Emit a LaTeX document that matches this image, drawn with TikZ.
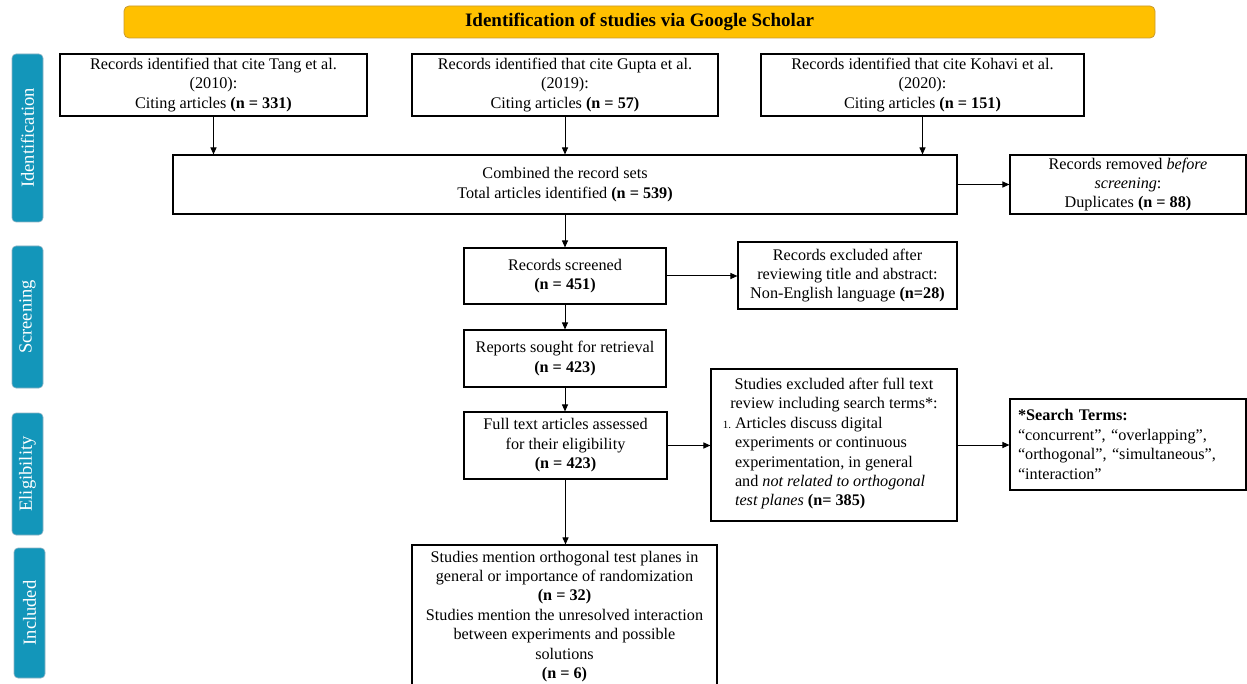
\documentclass[tikz,border=0pt]{standalone}
\usepackage{fontspec}
\setmainfont{Liberation Serif}
\usetikzlibrary{arrows.meta}
\definecolor{scholar}{HTML}{FFC000}
\definecolor{scholarline}{HTML}{C99A2E}
\definecolor{phaseblue}{HTML}{1396BA}
\definecolor{phaseline}{HTML}{8FB3C4}
\tikzset{
  box/.style={draw, line width=1.1pt, align=center, inner xsep=4pt, inner ysep=1pt},
  phasebox/.style={fill=phaseblue, draw=phaseline, line width=0.6pt, rounded corners=4pt,
    text=white, rotate=90, minimum height=31pt, font=\fontsize{18.5}{20}\selectfont},
  arr/.style={-{Triangle[length=7pt,width=6pt]}, line width=1pt}
}

\begin{document}
\begin{tikzpicture}[x=1pt, y=-1pt, font=\fontsize{16.2}{19.4}\selectfont]
        \path[use as bounding box, clip] (0,0) rectangle (1247,684);
        % title
        \node[fill=scholar, draw=scholarline, line width=0.8pt, rounded corners=5pt,
              minimum width=1031pt, minimum height=32pt,
              font=\fontsize{19}{22}\selectfont\bfseries] (title) at (639.5,22)
              {Identification of studies via Google Scholar};
        % phases
        \node[phasebox, minimum width=168pt] (ph-id)   at (27.5,138) {Identification};
        \node[phasebox, minimum width=142pt] (ph-scr)  at (27.5,317) {Screening};
        \node[phasebox, minimum width=122pt] (ph-elig) at (27.5,474) {Eligibility};
        \node[phasebox, minimum width=130pt] (ph-incl) at (29.5,613) {Included};
        % nodes
        \node[box, minimum width=307pt, minimum height=62pt] (tang) at (213.5,85)
              {Records identified that cite Tang et al.\\(2010):\\Citing articles \textbf{(n = 331)}};
        \node[box, minimum width=306pt, minimum height=62pt] (gupta) at (565,85)
              {Records identified that cite Gupta et al.\\(2019):\\Citing articles \textbf{(n = 57)}};
        \node[box, minimum width=323pt, minimum height=62pt] (kohavi) at (922.5,85)
              {Records identified that cite Kohavi et al.\\(2020):\\Citing articles \textbf{(n = 151)}};
        \node[box, minimum width=784pt, minimum height=59pt] (comb) at (565,184.5)
              {Combined the record sets\\Total articles identified \textbf{(n = 539)}};
        \node[box, minimum width=236pt, minimum height=59pt] (removed) at (1128,184.5)
              {Records removed \textit{before}\\\textit{screening}:\\Duplicates \textbf{(n = 88)}};
        \node[box, minimum width=202pt, minimum height=56pt] (scr) at (565,276)
              {Records screened\\\textbf{(n = 451)}};
        \node[box, minimum width=219pt, minimum height=67pt] (scr-excl) at (847.5,275.5)
              {Records excluded after\\reviewing title and abstract:\\Non-English language \textbf{(n=28)}};
        \node[box, minimum width=202pt, minimum height=57pt] (sought) at (565,358.5)
              {Reports sought for retrieval\\\textbf{(n = 423)}};
        \node[box, minimum width=203pt, minimum height=67pt] (full) at (565.5,445.5)
              {Full text articles assessed\\for their eligibility\\\textbf{(n = 423)}};
        \node[box, minimum width=246pt, minimum height=152pt] (full-excl) at (834,445)
              {Studies excluded after full text\\review including search terms*:\\
               \begin{tabular}[t]{@{}r@{\hspace{4pt}}l@{}}
               {\fontsize{11}{12}\selectfont 1.} & Articles discuss digital\\
               & experiments or continuous\\
               & experimentation, in general\\
               & and \textit{not related to orthogonal}\\
               & \textit{test planes} \textbf{(n= 385)}
               \end{tabular}\hspace*{20pt}};
        \node[box, align=left, inner xsep=8pt, text width=220pt, minimum height=91pt] (terms) at (1128,444.5)
              {\textbf{*Search Terms:}\\“concurrent”, “overlapping”,\\“orthogonal”, “simultaneous”,\\“interaction”};
        \node[box, minimum width=305pt, minimum height=143pt] (incl) at (564.5,616.5)
              {Studies mention orthogonal test planes in\\general or importance of randomization\\\textbf{(n = 32)}\\
               Studies mention the unresolved interaction\\between experiments and possible\\solutions\\\textbf{(n = 6)}};
        % arrows
        \draw[arr] (tang.south)   -- (tang.south |- comb.north);
        \draw[arr] (gupta.south)  -- (gupta.south |- comb.north);
        \draw[arr] (kohavi.south) -- (kohavi.south |- comb.north);
        \draw[arr] (comb.east)    -- (removed.west);
        \draw[arr] (comb.south)   -- (comb.south |- scr.north);
        \draw[arr] (scr.east)     -- (scr.east -| scr-excl.west);
        \draw[arr] (scr.south)    -- (scr.south |- sought.north);
        \draw[arr] (sought.south) -- (sought.south |- full.north);
        \draw[arr] (full.east)    -- (full.east -| full-excl.west);
        \draw[arr] (full-excl.east) -- (full-excl.east -| terms.west);
        \draw[arr] (full.south)   -- (full.south |- incl.north);
\end{tikzpicture}
\end{document}
